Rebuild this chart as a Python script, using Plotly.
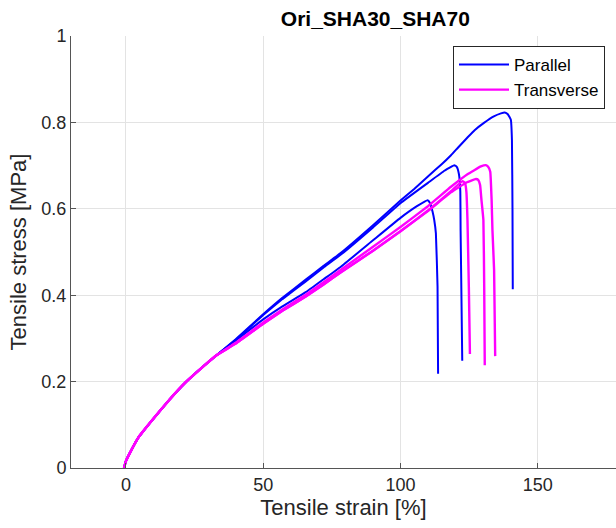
import plotly.graph_objects as go

# Common initial portion (all specimens overlap)
start_x = [-0.7, 0, 1.7, 4.7, 9.6, 15.7, 21.7, 27.8, 33]
start_y = [0, 0.016, 0.038, 0.072, 0.111, 0.157, 0.198, 0.233, 0.261]

# Parallel specimens
p1_x = [40, 50, 57, 65.5, 72, 78.3, 90, 100, 105, 110, 115, 118.4, 121, 124.4, 127, 130.4, 134, 136.6, 138, 139.1, 140.2, 140.6, 140.8, 140.9]
p1_y = [0.298, 0.356, 0.394, 0.436, 0.468, 0.498, 0.562, 0.619, 0.646, 0.675, 0.703, 0.724, 0.742, 0.765, 0.782, 0.799, 0.814, 0.821, 0.823, 0.819, 0.806, 0.759, 0.6, 0.414]
p2_x = [40, 50, 57, 65.5, 72, 78.3, 90, 100, 110, 116, 118.4, 119.6, 120.5, 121.3, 121.8, 121.9, 122.1, 122.5]
p2_y = [0.297, 0.354, 0.391, 0.432, 0.464, 0.494, 0.557, 0.613, 0.66, 0.688, 0.697, 0.701, 0.697, 0.68, 0.64, 0.55, 0.45, 0.248]
p3_x = [40, 50, 57, 65.5, 72, 78.3, 90, 100, 106, 109.9, 110.8, 111.7, 112.3, 112.9, 113.5, 113.7]
p3_y = [0.295, 0.344, 0.374, 0.407, 0.437, 0.466, 0.527, 0.579, 0.606, 0.62, 0.613, 0.593, 0.574, 0.543, 0.42, 0.218]

# Transverse specimens
t1_x = [40, 50, 57, 65.5, 72, 78.3, 90, 100, 110, 118.4, 124.4, 129.3, 131.1, 132, 132.7, 133.2, 133.5, 134.1, 134.5]
t1_y = [0.29, 0.337, 0.367, 0.401, 0.43, 0.459, 0.512, 0.558, 0.606, 0.651, 0.68, 0.698, 0.701, 0.697, 0.686, 0.62, 0.55, 0.458, 0.259]
t2_x = [40, 50, 57, 65.5, 72, 78.3, 90, 100, 110, 118.4, 124, 127.5, 128.3, 129, 129.5, 130.2, 130.5, 130.7]
t2_y = [0.288, 0.334, 0.364, 0.397, 0.425, 0.453, 0.503, 0.548, 0.595, 0.638, 0.661, 0.669, 0.667, 0.655, 0.62, 0.574, 0.42, 0.238]
t3_x = [40, 50, 57, 65.5, 72, 78.3, 90, 100, 110, 118.4, 122.6, 123.5, 124, 124.4, 124.9, 125.3]
t3_y = [0.288, 0.334, 0.364, 0.397, 0.425, 0.453, 0.503, 0.548, 0.596, 0.641, 0.664, 0.66, 0.64, 0.574, 0.42, 0.264]

x_ticks = [0, 50, 100, 150]
y_ticks = [0, 0.2, 0.4, 0.6, 0.8, 1]
y_tick_text = ["0", "0.2", "0.4", "0.6", "0.8", "1"]

BLUE = "#0000ff"
MAGENTA = "#ff00ff"
FONT = "Liberation Sans, Arial, sans-serif"

fig = go.Figure()
series = [
    (p1_x, p1_y, BLUE, "Parallel", True, 2),
    (p2_x, p2_y, BLUE, "Parallel", False, 2),
    (p3_x, p3_y, BLUE, "Parallel", False, 2),
    (t1_x, t1_y, MAGENTA, "Transverse", True, 2.4),
    (t2_x, t2_y, MAGENTA, "Transverse", False, 2.4),
    (t3_x, t3_y, MAGENTA, "Transverse", False, 2.4),
]
for xs, ys, col, name, show, w in series:
    fig.add_trace(go.Scatter(
        x=start_x + xs, y=start_y + ys, mode="lines", name=name,
        legendgroup=name, showlegend=show,
        line=dict(color=col, width=w, shape="spline", smoothing=0.3),
    ))

fig.update_layout(
    width=616, height=528,
    margin=dict(l=71, r=0, t=36, b=60, autoexpand=False),
    paper_bgcolor="white", plot_bgcolor="white",
    font=dict(family=FONT, color="#262626", size=15),
    title=dict(text="<b>Ori_SHA30_SHA70</b>", x=344 / 616, xanchor="center", xref="paper",
               y=1 - 19 / 528, yanchor="middle", font=dict(size=21, color="#000000")),
    showlegend=True,
    legend=dict(x=(453 - 71) / 545, y=(468 - 46) / 432, xanchor="left", yanchor="top",
                bgcolor="white", bordercolor="#262626", borderwidth=1,
                font=dict(size=17, color="#000000"), tracegroupgap=0,
                itemwidth=50),
    hovermode=False,
)
fig.update_xaxes(
    range=[-20, 178.5], tickvals=x_ticks, ticktext=[str(t) for t in x_ticks],
    showgrid=True, gridcolor="#e3e3e3", gridwidth=1, zeroline=False, automargin=False,
    showline=True, linecolor="#555555", linewidth=1, ticks="inside", ticklen=5,
    tickcolor="#555555", tickfont=dict(size=18, color="#262626"),
    title=dict(text="Tensile strain [%]", font=dict(size=22, color="#262626"), standoff=6),
)
fig.update_yaxes(
    range=[0, 1], tickvals=y_ticks, ticktext=y_tick_text,
    showgrid=True, gridcolor="#e3e3e3", gridwidth=1, zeroline=False, automargin=False,
    showline=True, linecolor="#555555", linewidth=1, ticks="inside", ticklen=5,
    tickcolor="#555555", tickfont=dict(size=18, color="#262626"),
    title=dict(text="Tensile stress [MPa]", font=dict(size=22, color="#262626"), standoff=8),
)

fig.write_html(
    "out.html",
    config={"displayModeBar": False},
    post_script="document.body.style.margin='0';document.body.style.overflow='hidden';",
)
